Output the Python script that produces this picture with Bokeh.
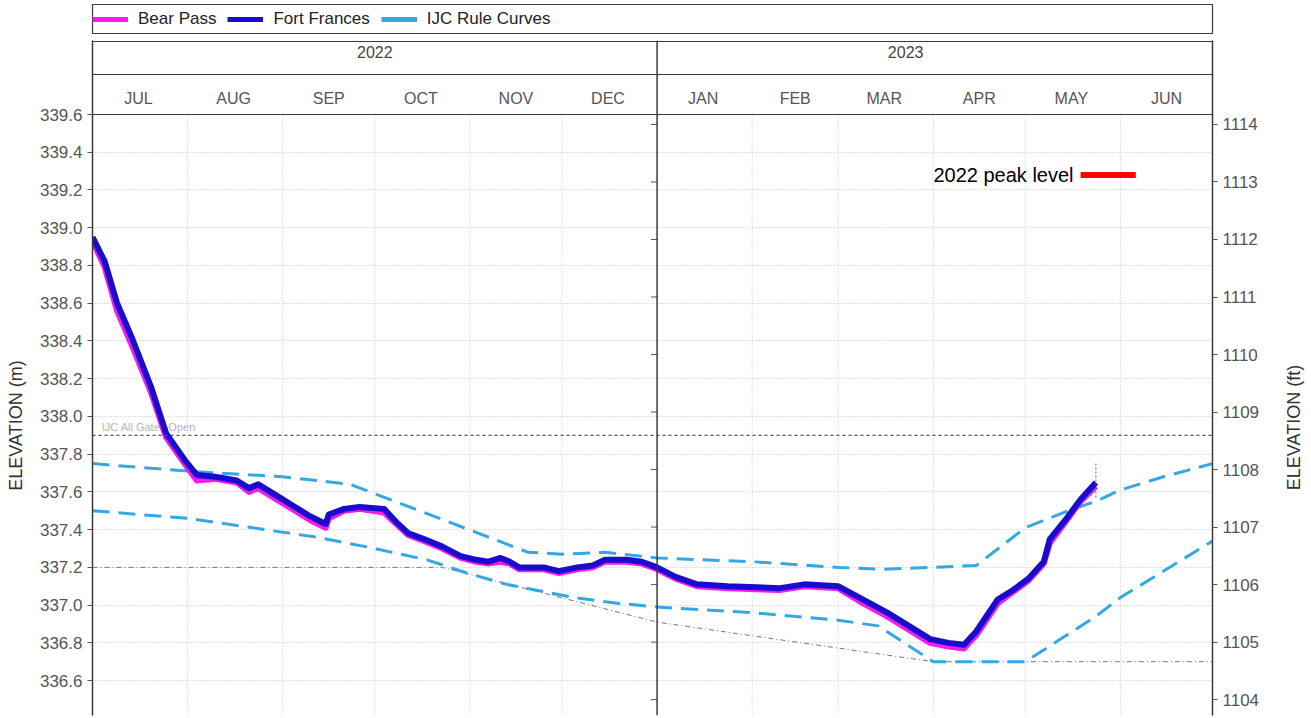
import pandas as pd
from bokeh.plotting import figure
from bokeh.models import (Range1d, LinearAxis, FixedTicker, Span, Legend, LegendItem,
                          PrintfTickFormatter)
from bokeh.layouts import column, row
from bokeh.embed import file_html
from bokeh.resources import INLINE
from bokeh.core.properties import value

# ---------------- data ----------------
ff_dates = ["2022-07-01", "2022-07-05", "2022-07-09", "2022-07-14", "2022-07-20", "2022-07-25",
            "2022-07-31", "2022-08-04", "2022-08-10", "2022-08-17", "2022-08-21", "2022-08-24",
            "2022-08-30", "2022-09-05", "2022-09-10", "2022-09-15", "2022-09-16", "2022-09-21",
            "2022-09-26", "2022-10-04", "2022-10-08", "2022-10-12", "2022-10-17", "2022-10-23",
            "2022-10-29", "2022-11-03", "2022-11-07", "2022-11-11", "2022-11-14", "2022-11-17",
            "2022-11-25", "2022-11-30", "2022-12-06", "2022-12-11", "2022-12-15", "2022-12-22",
            "2022-12-27", "2023-01-01", "2023-01-07", "2023-01-14", "2023-01-24", "2023-02-10",
            "2023-02-18", "2023-03-01", "2023-03-09", "2023-03-17", "2023-03-24", "2023-03-31",
            "2023-04-06", "2023-04-11", "2023-04-15", "2023-04-22", "2023-04-27", "2023-05-02",
            "2023-05-07", "2023-05-09", "2023-05-14", "2023-05-19", "2023-05-24"]
fort_frances = [338.95, 338.82, 338.60, 338.41, 338.16, 337.91,
                337.77, 337.69, 337.68, 337.66, 337.62, 337.64,
                337.58, 337.52, 337.47, 337.43, 337.48, 337.51,
                337.52, 337.51, 337.44, 337.38, 337.35, 337.31,
                337.26, 337.24, 337.23, 337.25, 337.23, 337.20,
                337.20, 337.18, 337.20, 337.21, 337.24, 337.24,
                337.23, 337.20, 337.15, 337.11, 337.10, 337.09,
                337.11, 337.10, 337.03, 336.96, 336.89, 336.82,
                336.80, 336.79, 336.86, 337.03, 337.08, 337.14,
                337.23, 337.35, 337.45, 337.56, 337.65]
bp_dates = ff_dates
bear_pass = [338.93, 338.79, 338.56, 338.37, 338.13, 337.89,
             337.75, 337.66, 337.67, 337.65, 337.60, 337.62,
             337.56, 337.50, 337.45, 337.41, 337.46, 337.50,
             337.51, 337.49, 337.43, 337.37, 337.34, 337.30,
             337.25, 337.23, 337.22, 337.23, 337.22, 337.19,
             337.19, 337.17, 337.19, 337.20, 337.23, 337.23,
             337.22, 337.19, 337.14, 337.10, 337.09, 337.08,
             337.10, 337.09, 337.01, 336.94, 336.87, 336.80,
             336.78, 336.77, 336.84, 337.01, 337.07, 337.13,
             337.22, 337.33, 337.44, 337.55, 337.63]

rule_upper_dates = ["2022-07-01", "2022-08-01", "2022-09-01", "2022-09-23", "2022-11-20",
                    "2022-12-01", "2022-12-15", "2023-01-01", "2023-02-01", "2023-03-01",
                    "2023-03-15", "2023-04-01", "2023-04-15", "2023-05-01", "2023-05-15",
                    "2023-05-24", "2023-06-01", "2023-06-15", "2023-07-01"]
rule_upper = [337.75, 337.71, 337.68, 337.64, 337.28,
              337.27, 337.28, 337.25, 337.23, 337.20,
              337.19, 337.20, 337.21, 337.41, 337.50,
              337.55, 337.61, 337.68, 337.75]
rule_lower_dates = ["2022-07-01", "2022-08-01", "2022-09-12", "2022-09-28", "2022-10-18",
                    "2022-10-31", "2022-11-13", "2022-12-05", "2022-12-19", "2023-01-01",
                    "2023-02-01", "2023-03-01", "2023-03-14", "2023-04-01", "2023-05-01",
                    "2023-05-24", "2023-06-01", "2023-07-01"]
rule_lower = [337.50, 337.46, 337.36, 337.31, 337.24,
              337.17, 337.11, 337.04, 337.01, 336.99,
              336.96, 336.92, 336.89, 336.70, 336.70,
              336.94, 337.04, 337.34]
drawdown_dates = ["2022-07-01", "2022-10-23", "2023-01-01", "2023-04-01", "2023-07-01"]
drawdown = [337.20, 337.20, 336.91, 336.70, 336.70]

gates_open_level = 337.90
gates_open_label = "IJC All Gates Open"
peak_2022_level = 339.28
peak_dates = ["2023-05-19", "2023-06-06"]
peak_label = "2022 peak level"
latest_date = "2023-05-24"
latest_range = [337.57, 337.76]

month_labels = ["JUL", "AUG", "SEP", "OCT", "NOV", "DEC", "JAN", "FEB", "MAR", "APR", "MAY", "JUN"]
month_label_dates = ["2022-07-16", "2022-08-16", "2022-09-16", "2022-10-16", "2022-11-16", "2022-12-16",
                     "2023-01-16", "2023-02-15", "2023-03-16", "2023-04-16", "2023-05-16", "2023-06-16"]
month_starts = ["2022-08-01", "2022-09-01", "2022-10-01", "2022-11-01", "2022-12-01",
                "2023-02-01", "2023-03-01", "2023-04-01", "2023-05-01", "2023-06-01"]
year_labels = ["2022", "2023"]
year_label_dates = ["2022-10-01", "2023-03-23"]
year_break = "2023-01-01"
x_start, x_end = "2022-07-01", "2023-07-01"

m_ticks = [336.4, 336.6, 336.8, 337.0, 337.2, 337.4, 337.6, 337.8, 338.0,
           338.2, 338.4, 338.6, 338.8, 339.0, 339.2, 339.4, 339.6]
ft_ticks = [1104, 1105, 1106, 1107, 1108, 1109, 1110, 1111, 1112, 1113, 1114]
M_TO_FT = 3.28084
left_axis_title = "ELEVATION (m)"
right_axis_title = "ELEVATION (ft)"

# ---------------- style / layout ----------------
FONT = value("Liberation Sans")
FF_COLOR = "#1a0ccf"
BP_COLOR = "#f01ee8"
RULE_COLOR = "#35a7e2"
BORDER = "#3a3a3a"
TICK_TXT = "#555555"
GRID = "#c4c4c4"

PX_PER_M = 188.7
PLOT_H = 601
HEADER_H = 73
MONTH_ROW_H = 40
FRAME_W = 1120
SIDE_L, SIDE_R = 30, 26          # title strips
LB, RB = 62, 68                  # main figure borders (tick labels)

y_plot_top = m_ticks[-1]
y_start = y_plot_top - PLOT_H / PX_PER_M
y_header_mid = y_plot_top + MONTH_ROW_H / PX_PER_M
y_header_top = y_plot_top + HEADER_H / PX_PER_M
y_end = y_header_top + 1 / PX_PER_M
frame_h = PLOT_H + HEADER_H + 1
main_h = frame_h + 2

D = pd.to_datetime

# ---------------- legend figure ----------------
lf = figure(frame_width=FRAME_W, frame_height=29, min_border_left=SIDE_L + LB, min_border_right=RB + SIDE_R,
            min_border_top=4, min_border_bottom=6, x_range=Range1d(0, 1), y_range=Range1d(0, 1),
            x_axis_location=None, y_axis_location=None, toolbar_location=None, output_backend="svg")
lf.grid.visible = False
lf.outline_line_color = BORDER
lf.outline_line_width = 1.2
hidden_x, hidden_y = [-5, -4], [-5, -5]
r_bp = lf.line(x=hidden_x, y=hidden_y, line_color=BP_COLOR, line_width=5)
r_ff = lf.line(x=hidden_x, y=hidden_y, line_color=FF_COLOR, line_width=5)
r_rc = lf.line(x=hidden_x, y=hidden_y, line_color=RULE_COLOR, line_width=5)
leg = Legend(items=[LegendItem(label="Bear Pass", renderers=[r_bp]),
                    LegendItem(label="Fort Frances", renderers=[r_ff]),
                    LegendItem(label="IJC Rule Curves", renderers=[r_rc])],
             orientation="horizontal", location="left", margin=0, padding=3,
             glyph_width=36, glyph_height=14, label_standoff=10, spacing=11,
             border_line_color=None, background_fill_alpha=0,
             label_text_font="Liberation Sans", label_text_font_size="17px", label_text_color="#222222")
lf.add_layout(leg, "center")


# ---------------- axis-title strips ----------------
def title_strip(width, text, x_px, y_px_from_top):
    f = figure(frame_width=width, frame_height=main_h, min_border=0,
               x_range=Range1d(0, width), y_range=Range1d(main_h, 0),
               x_axis_location=None, y_axis_location=None, toolbar_location=None, output_backend="svg")
    f.grid.visible = False
    f.outline_line_color = None
    f.text(x=[x_px], y=[y_px_from_top], text=[text], angle=90, angle_units="deg",
           text_font=FONT, text_font_size="18px", text_color="#333333",
           text_align="center", text_baseline="middle")
    return f


left_strip = title_strip(SIDE_L, left_axis_title, 15, 385)
right_strip = title_strip(SIDE_R, right_axis_title, 13, 387)

# ---------------- main figure ----------------
p = figure(x_axis_type="datetime", x_axis_location=None,
           frame_width=FRAME_W, frame_height=frame_h, min_border_left=LB, min_border_right=RB,
           min_border_top=1, min_border_bottom=1,
           x_range=Range1d(D(x_start), D(x_end)), y_range=Range1d(y_start, y_end),
           toolbar_location=None, output_backend="svg")
p.outline_line_color = None
p.xgrid.visible = False
p.ygrid.ticker = FixedTicker(ticks=m_ticks[:-1])
p.ygrid.grid_line_color = GRID
p.ygrid.grid_line_dash = "1 2"

ax = p.yaxis[0]
ax.ticker = FixedTicker(ticks=m_ticks)
ax.formatter = PrintfTickFormatter(format="%.1f")
p.extra_y_ranges = {"ft": Range1d(y_start * M_TO_FT, y_end * M_TO_FT)}
axr = LinearAxis(y_range_name="ft", ticker=FixedTicker(ticks=ft_ticks))
p.add_layout(axr, "right")
for a in (ax, axr):
    a.axis_line_color = BORDER
    a.axis_line_width = 1.5
    a.major_tick_out = 5
    a.major_tick_in = 0
    a.major_tick_line_color = "#555555"
    a.minor_tick_line_color = None
    a.major_label_standoff = 5
    a.major_label_text_font = "Liberation Sans"
    a.major_label_text_font_size = "17px"
    a.major_label_text_color = TICK_TXT

# vertical month grid (plot area only)
n = len(month_starts)
p.segment(x0=D(month_starts), y0=[y_start] * n, x1=D(month_starts), y1=[y_plot_top] * n,
          line_color=GRID, line_width=1, line_dash="1 2")

# header rules
for loc in (y_plot_top, y_header_mid, y_header_top):
    p.add_layout(Span(location=loc, dimension="width", line_color=BORDER, line_width=1.2))
p.add_layout(Span(location=D(year_break), dimension="height", line_color=BORDER, line_width=1.5))

# ft ticks on the panel divider
p.scatter(x=[D(year_break) - pd.Timedelta(days=1)] * len(ft_ticks), y=ft_ticks, y_range_name="ft",
          marker="dash", size=6, line_color="#555555", line_width=1)

# header texts
p.text(x=D(year_label_dates), y=[y_plot_top + 63 / PX_PER_M] * 2, text=year_labels,
       text_font=FONT, text_font_size="16px", text_color="#444444",
       text_align="center", text_baseline="middle")
p.text(x=D(month_label_dates), y=[y_plot_top + 16 / PX_PER_M] * len(month_labels), text=month_labels,
       text_font=FONT, text_font_size="16px", text_color="#555555",
       text_align="center", text_baseline="middle")

# reference lines
p.add_layout(Span(location=gates_open_level, dimension="width", line_color="#555555",
                  line_width=1.2, line_dash="3 3"))
p.text(x=[D(x_start) + pd.Timedelta(days=3)], y=[gates_open_level], text=[gates_open_label],
       text_font=FONT, text_font_size="11px", text_color="#b5b5b5",
       text_align="left", text_baseline="bottom", y_offset=-2)
p.line(x=D(drawdown_dates), y=drawdown, line_color="#777777", line_width=1, line_dash="5 3 1 3")

# rule curves
p.line(x=D(rule_upper_dates), y=rule_upper, line_color=RULE_COLOR, line_width=3, line_dash="17 9")
p.line(x=D(rule_lower_dates), y=rule_lower, line_color=RULE_COLOR, line_width=3, line_dash="17 9")

# observed levels
p.line(x=D(bp_dates), y=bear_pass, line_color=BP_COLOR, line_width=6, line_join="round")
p.line(x=D(ff_dates), y=fort_frances, line_color=FF_COLOR, line_width=6, line_join="round")

# latest-data marker
p.line(x=D([latest_date, latest_date]), y=latest_range, line_color="#666666", line_width=1, line_dash="2 2")

# 2022 peak level
p.line(x=D(peak_dates), y=[peak_2022_level] * 2, line_color="#ff0000", line_width=6)
p.text(x=[D(peak_dates[0])], y=[peak_2022_level], text=[peak_label], x_offset=-7,
       text_font=FONT, text_font_size="20px", text_color="#000000",
       text_align="right", text_baseline="middle")

layout = column(lf, row(left_strip, p, right_strip, spacing=0), spacing=0)
open("out.html", "w").write(file_html(layout, INLINE))
